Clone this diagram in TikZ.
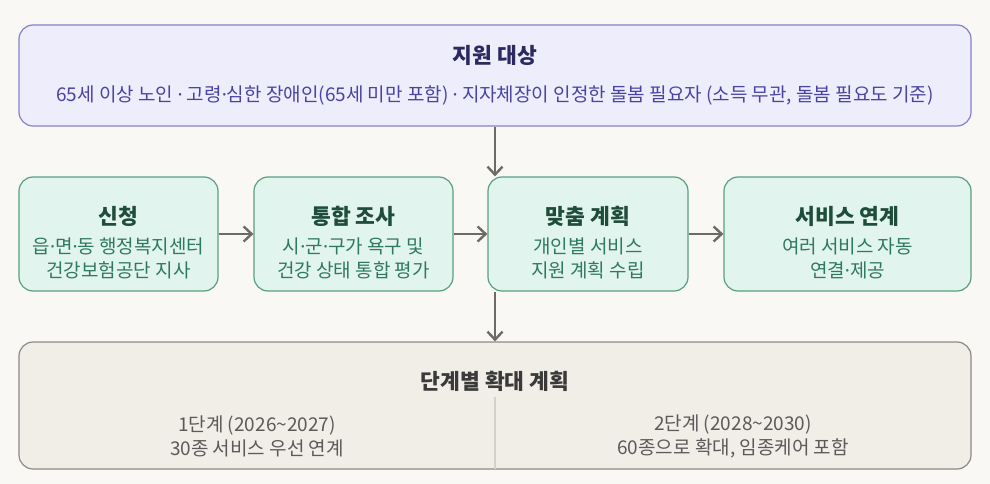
\documentclass[tikz,border=0pt]{standalone}
\usepackage{fontspec}
\setmainfont{Noto Sans CJK KR}
\newfontfamily\latinfont{Noto Sans}
\newcommand{\mdot}{{\latinfont ·}}
\usepackage{xcolor}
\usepackage{tikz}
\usetikzlibrary{arrows.meta}

\definecolor{pagebg}{HTML}{FAF8F4}
\definecolor{targetfill}{HTML}{EEEDFB}
\definecolor{targetline}{HTML}{8680C8}
\definecolor{targettitle}{HTML}{2B2960}
\definecolor{targettext}{HTML}{4B43A3}
\definecolor{stepfill}{HTML}{E2F4EE}
\definecolor{stepline}{HTML}{5A9E84}
\definecolor{steptitle}{HTML}{1F4D3C}
\definecolor{steptext}{HTML}{2E7A5E}
\definecolor{planfill}{HTML}{F1EEE8}
\definecolor{planline}{HTML}{8C8A86}
\definecolor{plantitle}{HTML}{3A3A3A}
\definecolor{plantext}{HTML}{5A5A5A}
\definecolor{flowgray}{HTML}{6E6A66}
\definecolor{splitgray}{HTML}{D5D1CA}

\tikzset{
  panel/.style={draw,rounded corners=14pt,line width=1.2pt,inner sep=0pt},
  targetbox/.style={panel,fill=targetfill,draw=targetline},
  stepbox/.style={panel,fill=stepfill,draw=stepline,minimum height=114pt},
  planbox/.style={panel,fill=planfill,draw=planline},
  txt/.style={inner sep=0pt,align=center},
  boxtitle/.style={txt,font=\fontsize{21.5}{25}\selectfont\bfseries},
  boxtext/.style={txt,font=\fontsize{19}{24}\selectfont},
  flow/.style={-{Straight Barb[length=8pt,width=15pt,line width=2.4pt]},line width=2.6pt,draw=flowgray}
}

\begin{document}
\begin{tikzpicture}[x=1pt,y=-1pt]
\fill [pagebg] (0,0) rectangle (990,484);
\useasboundingbox (0,0) rectangle (990,484);

\node (target) at (495,75.5) [targetbox,minimum width=952pt,minimum height=101pt] {};
\node (targettitle) at (495,55) [boxtitle,text=targettitle] {지원 대상};
\node (targettext) at (495,95) [boxtext,text=targettext] {65세 이상 노인 \mdot{} 고령\mdot 심한 장애인(65세 미만 포함) \mdot{} 지자체장이 인정한 돌봄 필요자 (소득 무관, 돌봄 필요도 기준)};

\node (apply) at (118.5,234) [stepbox,minimum width=199pt] {};
\node (applytitle) at (118.5,216) [boxtitle,text=steptitle] {신청};
\node (applytext) at (118.5,258) [boxtext,text=steptext] {읍\mdot 면\mdot 동 행정복지센터\\건강보험공단 지사};

\node (survey) at (353.5,234) [stepbox,minimum width=199pt] {};
\node (surveytitle) at (353.5,216) [boxtitle,text=steptitle] {통합 조사};
\node (surveytext) at (353.5,258) [boxtext,text=steptext] {시\mdot 군\mdot 구가 욕구 및\\건강 상태 통합 평가};

\node (plan) at (588,234) [stepbox,minimum width=200pt] {};
\node (plantitle) at (588,216) [boxtitle,text=steptitle] {맞춤 계획};
\node (plantext) at (588,258) [boxtext,text=steptext] {개인별 서비스\\지원 계획 수립};

\node (link) at (847.5,234) [stepbox,minimum width=247pt] {};
\node (linktitle) at (847.5,216) [boxtitle,text=steptitle] {서비스 연계};
\node (linktext) at (847.5,258) [boxtext,text=steptext] {여러 서비스 자동\\연결\mdot 제공};

\node (expand) at (495,405.5) [planbox,minimum width=952pt,minimum height=127pt] {};
\node (expandtitle) at (495,381) [boxtitle,text=plantitle] {단계별 확대 계획};
\coordinate (splittop) at (495,397);
\coordinate (splitbot) at (495,469);
\node (phaseone) at (257,436) [boxtext,text=plantext] {1단계 (2026\textasciitilde 2027)\\30종 서비스 우선 연계};
\node (phasetwo) at (733,436) [boxtext,text=plantext] {2단계 (2028\textasciitilde 2030)\\60종으로 확대, 임종케어 포함};

\draw [flow] (target.south) -- (target.south |- plan.north);
\draw [flow] (apply) -- (survey);
\draw [flow] (survey) -- (plan);
\draw [flow] (plan) -- (link);
\draw [flow] (expand.north |- plan.south) -- (expand.north);
\draw [splitgray,line width=1.5pt] (splittop) -- (splitbot);
\end{tikzpicture}
\end{document}
